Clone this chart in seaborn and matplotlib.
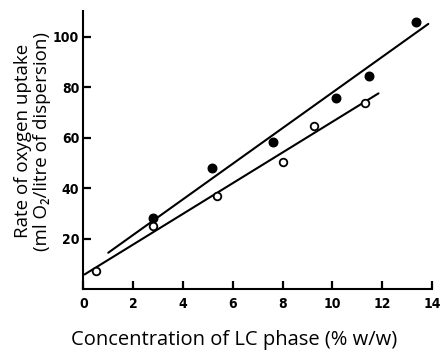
import matplotlib
matplotlib.use("Agg")
import matplotlib.pyplot as plt
from matplotlib import font_manager
import seaborn as sns
import pandas as pd

# data
conc_filled = [2.8, 5.15, 7.6, 10.15, 11.45, 13.35]
rate_filled = [28.0, 48.0, 58.3, 75.7, 84.5, 105.6]
conc_open = [0.5, 2.8, 5.35, 8.0, 9.25, 11.3]
rate_open = [7.1, 25.0, 37.0, 50.4, 64.7, 73.7]

# fitted lines (end points)
fit_filled_x = [1.0, 13.85]
fit_filled_y = [14.4, 105.0]
fit_open_x = [0.05, 11.85]
fit_open_y = [5.8, 77.5]

xticks = [0, 2, 4, 6, 8, 10, 12, 14]
yticks = [20, 40, 60, 80, 100]

sns.set_style("ticks")
plt.rcParams["text.color"] = "black"
plt.rcParams["axes.labelcolor"] = "black"
plt.rcParams["xtick.color"] = "black"
plt.rcParams["ytick.color"] = "black"

label_font = ["Open Sans", "DejaVu Sans"]
installed = {f.name for f in font_manager.fontManager.ttflist}
if "Liberation Sans Narrow" in installed:
    tick_kw = dict(family="Liberation Sans Narrow", weight="bold", fontsize=11)
else:
    tick_kw = dict(family="DejaVu Sans", stretch="condensed", weight="bold", fontsize=10)

df_filled = pd.DataFrame({"conc": conc_filled, "rate": rate_filled})
df_open = pd.DataFrame({"conc": conc_open, "rate": rate_open})

fig = plt.figure(figsize=(4.42, 3.53), dpi=100)
ax = fig.add_axes([0.1885, 0.181, 0.789, 0.787])

sns.lineplot(x=fit_filled_x, y=fit_filled_y, ax=ax, color="black", lw=1.5)
sns.lineplot(x=fit_open_x, y=fit_open_y, ax=ax, color="black", lw=1.5)
sns.scatterplot(data=df_filled, x="conc", y="rate", ax=ax, color="black",
                s=38, edgecolor="black", linewidth=1, zorder=3)
sns.scatterplot(data=df_open, x="conc", y="rate", ax=ax, facecolor="white",
                s=30, edgecolor="black", linewidth=1.3, zorder=3)

ax.set_xlim(0, 14)
ax.set_ylim(0, 110)
ax.set_xticks(xticks)
ax.set_yticks(yticks)
ax.set_xticklabels([str(t) for t in xticks], **tick_kw)
ax.set_yticklabels([str(t) for t in yticks], **tick_kw)
ax.tick_params(direction="in", length=6, width=1.6, color="black")
ax.tick_params(axis="x", pad=6)
ax.tick_params(axis="y", pad=3)
for side in ["top", "right"]:
    ax.spines[side].set_visible(False)
for side in ["left", "bottom"]:
    ax.spines[side].set_linewidth(1.5)
    ax.spines[side].set_color("black")

ax.set_xlabel("Concentration of LC phase (% w/w)", family=label_font,
              fontsize=14.5, va="center")
ax.xaxis.set_label_coords(0.433, -0.183)
ax.set_ylabel("Rate of oxygen uptake\n(ml O\u2082/litre of dispersion)",
              family=label_font, fontsize=13.5, linespacing=1.05, va="center")
ax.yaxis.set_label_coords(-0.146, 0.532)

fig.savefig("out.png", dpi=100)
